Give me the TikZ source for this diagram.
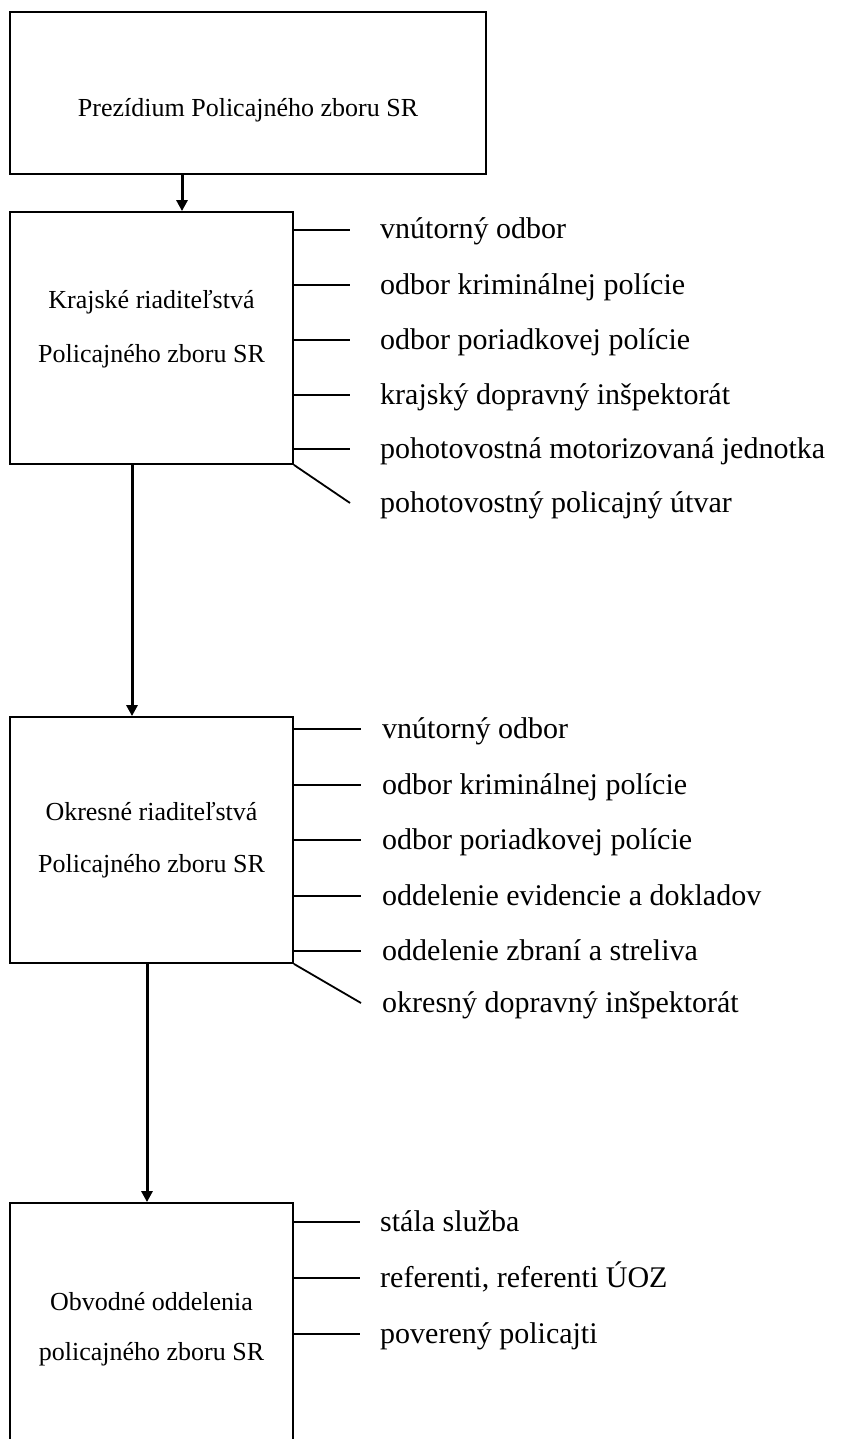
\documentclass[tikz,border=0pt]{standalone}
\usepackage{fontspec}
\setmainfont{Liberation Serif}
\usepackage{tikz}
\usetikzlibrary{positioning, arrows.meta}

\tikzset{
  unit/.style={draw, line width=1.8pt, inner sep=0pt},
  unittext/.style={font=\fontsize{26}{30}\selectfont, inner sep=0pt},
  dept/.style={font=\fontsize{30}{34}\selectfont, anchor=west, inner sep=0pt,
    text height=23pt, text depth=5pt},
  stub/.style={line width=1.8pt},
  down/.style={line width=3pt, -{Triangle[width=11pt,length=11pt]}}
}

\begin{document}
\begin{tikzpicture}[x=1pt, y=-1pt]
\useasboundingbox (0,0) rectangle (857,1439);
\clip (0,0) rectangle (857,1439);

% boxes
\node[unit, minimum width=476pt, minimum height=162pt] (prez) at (248,93) {};
\node[unit, minimum width=283pt, minimum height=252pt] (kraj) at (151.5,338) {};
\node[unit, minimum width=283pt, minimum height=246pt] (okres) at (151.5,840) {};
\node[unit, minimum width=283pt, minimum height=300pt] (obv) at (151.5,1353) {};

\node[unittext] (tprez) at (248,110) {Prezídium Policajného zboru SR};
\node[unittext] (tkraj1) at (151.5,302) {Krajské riaditeľstvá};
\node[unittext] (tkraj2) at (151.5,356) {Policajného zboru SR};
\node[unittext] (tokr1) at (151.5,812) {Okresné riaditeľstvá};
\node[unittext] (tokr2) at (151.5,866) {Policajného zboru SR};
\node[unittext] (tobv1) at (151.5,1302) {Obvodné oddelenia};
\node[unittext] (tobv2) at (151.5,1354) {policajného zboru SR};

% arrows
\draw[down] (prez.south -| 182,0) -- (kraj.north -| 182,0);
\draw[down] (kraj.south -| 132,0) -- (okres.north -| 132,0);
\draw[down] (okres.south -| 147,0) -- (obv.north -| 147,0);

% krajske
\node[dept] (k1) at (380,230) {vnútorný odbor};
\node[dept] (k2) at (380,285) {odbor kriminálnej polície};
\node[dept] (k3) at (380,340) {odbor poriadkovej polície};
\node[dept] (k4) at (380,395) {krajský dopravný inšpektorát};
\node[dept] (k5) at (380,449) {pohotovostná motorizovaná jednotka};
\node[dept] (k6) at (380,503) {pohotovostný policajný útvar};
\foreach \i in {1,...,5}
  \draw[stub] (k\i.west -| kraj.east) -- ([xshift=-30pt]k\i.west);
\draw[stub] (kraj.south east) -- ([xshift=-30pt]k6.west);

% okresne
\node[dept] (o1) at (382,729) {vnútorný odbor};
\node[dept] (o2) at (382,785) {odbor kriminálnej polície};
\node[dept] (o3) at (382,840) {odbor poriadkovej polície};
\node[dept] (o4) at (382,896) {oddelenie evidencie a dokladov};
\node[dept] (o5) at (382,951) {oddelenie zbraní a streliva};
\node[dept] (o6) at (382,1003) {okresný dopravný inšpektorát};
\foreach \i in {1,...,5}
  \draw[stub] (o\i.west -| okres.east) -- ([xshift=-21pt]o\i.west);
\draw[stub] (okres.south east) -- ([xshift=-21pt]o6.west);

% obvodne
\node[dept] (b1) at (380,1222) {stála služba};
\node[dept] (b2) at (380,1278) {referenti, referenti ÚOZ};
\node[dept] (b3) at (380,1334) {poverený policajti};
\foreach \i in {1,2,3}
  \draw[stub] (b\i.west -| obv.east) -- ([xshift=-20pt]b\i.west);
\end{tikzpicture}
\end{document}
